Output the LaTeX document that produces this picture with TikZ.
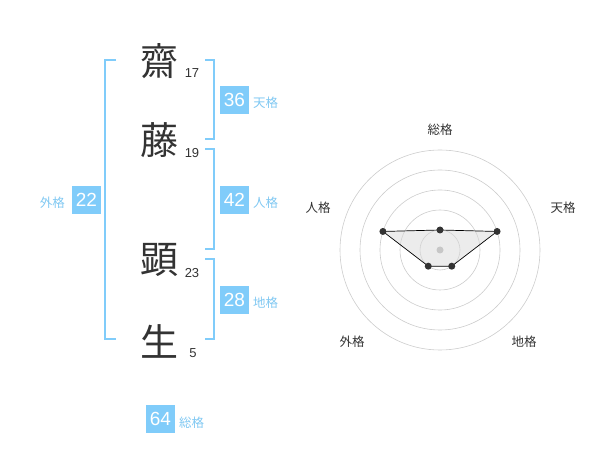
\documentclass[tikz,border=0pt]{standalone}
\usepackage{fontspec}
\setmainfont{Liberation Sans}
\newfontfamily\jpfont{Noto Sans CJK JP}
\definecolor{kakublue}{HTML}{80CCFA}
\definecolor{kakutext}{HTML}{80C8F2}
\definecolor{ink}{HTML}{333333}
\tikzset{
  kanji/.style={font=\jpfont\fontsize{38}{38}\selectfont,text=ink,inner sep=0},
  strokes/.style={font=\fontsize{13}{13}\selectfont,text=ink,inner sep=0},
  kakubox/.style={fill=kakublue,text=white,minimum width=29,minimum height=28,inner sep=0,font=\fontsize{19}{19}\selectfont},
  kakulabel/.style={text=kakutext,font=\jpfont\fontsize{12.5}{12.5}\selectfont,inner sep=0},
  bracket/.style={draw=kakublue,line width=2},
  ring/.style={draw=black!20,line width=0.6},
  radarlabel/.style={text=ink,font=\jpfont\fontsize{12.5}{12.5}\selectfont,inner sep=0},
  dot/.style={fill=ink,circle,inner sep=0,minimum size=7},
}
\begin{document}
\begin{tikzpicture}[x=1pt,y=-1pt]
\useasboundingbox (0,0) rectangle (600,470);
% name
\node [kanji] (sai) at (159,61) {齋};
\node [kanji] (fuji) at (159,140) {藤};
\node [kanji] (ken) at (159,260) {顕};
\node [kanji] (sei) at (159,341) {生};
\node [strokes] (n1) at (192,73) {17};
\node [strokes] (n2) at (192,153) {19};
\node [strokes] (n3) at (192,273) {23};
\node [strokes] (n4) at (193,353) {5};
% brackets
\draw [bracket] (116,60) -- (105,60) -- (105,339) -- (116,339);
\draw [bracket] (205,60) -- (214,60) -- (214,139) -- (205,139);
\draw [bracket] (205,149) -- (214,149) -- (214,249) -- (205,249);
\draw [bracket] (205,259) -- (214,259) -- (214,339) -- (205,339);
% boxes
\node [kakubox] (ten) at (234.5,100) {36};
\node [kakulabel,anchor=west] (tenlabel) at (253,103) {天格};
\node [kakubox] (jin) at (234.5,200) {42};
\node [kakulabel,anchor=west] (jinlabel) at (253,203) {人格};
\node [kakubox] (gai) at (86.5,200) {22};
\node [kakulabel,anchor=east] (gailabel) at (65,203) {外格};
\node [kakubox] (chi) at (234.5,300) {28};
\node [kakulabel,anchor=west] (chilabel) at (253,303) {地格};
\node [kakubox] (sou) at (160.5,419) {64};
\node [kakulabel,anchor=west] (soulabel) at (179,423) {総格};
% radar
\begin{scope}[shift={(440,250)},yscale=-1]
\foreach \r in {20,40,...,100}
  \draw [ring] (0,0) circle [radius=\r];
\coordinate (psou) at (90:20);
\coordinate (pten) at (18:60);
\coordinate (pchi) at (-54:20);
\coordinate (pgai) at (-126:20);
\coordinate (pjin) at (162:60);
\draw [fill=black!15,fill opacity=0.5,line width=0.7] (psou) -- (pten) -- (pchi) -- (pgai) -- (pjin) -- cycle;
\fill [black!22] (0,0) circle [radius=3.5];
\foreach \p in {psou,pten,pchi,pgai,pjin}
  \node [dot] at (\p) {};
\end{scope}
\node [radarlabel] (rsou) at (440,130) {総格};
\node [radarlabel] (rten) at (563,208) {天格};
\node [radarlabel] (rjin) at (318,208) {人格};
\node [radarlabel] (rgai) at (352,342) {外格};
\node [radarlabel] (rchi) at (524,342) {地格};
\end{tikzpicture}
\end{document}
